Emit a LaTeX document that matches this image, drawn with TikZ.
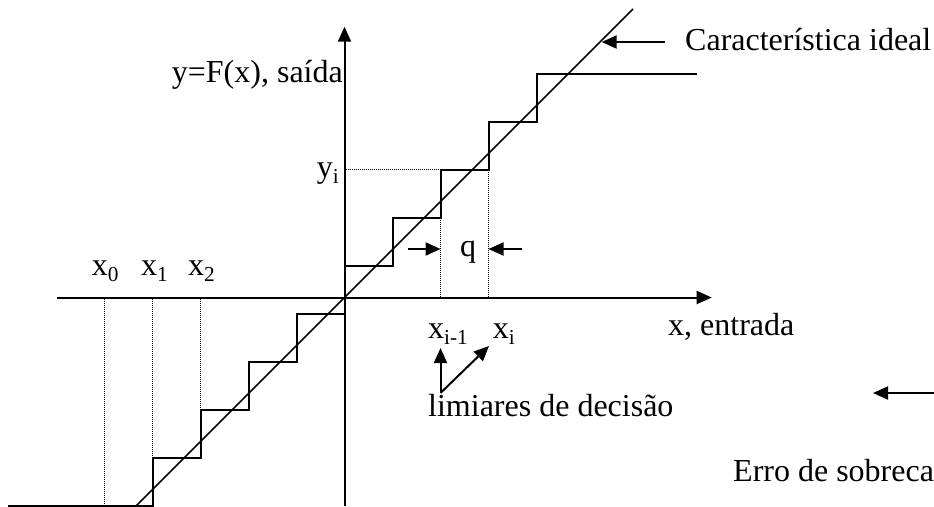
\documentclass[tikz,border=0pt]{standalone}
\usepackage{fontspec}
\setmainfont{Liberation Serif}
\usetikzlibrary{arrows.meta}
\newcommand\mysub[1]{\raisebox{-0.21em}{\fontsize{21.3}{22}\selectfont #1}}
\tikzset{
  axisline/.style={line width=2pt,-{Triangle[length=15pt,width=13pt]}},
  pointer/.style={line width=2pt,-{Triangle[length=15pt,width=13pt]}},
  stair/.style={line width=2pt},
  ideal/.style={line width=1.6pt},
  guide/.style={line width=1pt,dash pattern=on 1pt off 1pt},
  lbl/.style={anchor=base west,inner sep=0pt,font=\fontsize{32}{38}\selectfont},
}
\begin{document}
\begin{tikzpicture}[x=1pt,y=-1pt]
\useasboundingbox (0,0) rectangle (934,506);
\clip (0,0) rectangle (934,506);
% coordinates
\coordinate (xs) at (57,297.5);
\coordinate (xe) at (711.7,297.5);
\coordinate (ys) at (344.5,506);
\coordinate (ye) at (344.5,26.7);
% axes
\draw[axisline] (xs) -- (xe);
\draw[axisline] (ys) -- (ye);
% ideal characteristic
\coordinate (ia) at (136.5,505.5);
\coordinate (ib) at (633,9);
\draw[ideal] (ia) -- (ib);
% staircase
\draw[stair] (8,505.5) -- (152.5,505.5) -- (152.5,457.5) -- (200.5,457.5)
  -- (200.5,409.5) -- (248.5,409.5) -- (248.5,361.5) -- (296.5,361.5)
  -- (296.5,313.5) -- (344.5,313.5) -- (344.5,265.5) -- (392.5,265.5)
  -- (392.5,217.5) -- (440.5,217.5) -- (440.5,169.5) -- (488.5,169.5)
  -- (488.5,121.5) -- (536.5,121.5) -- (536.5,73.5) -- (696.5,73.5);
% guides
\draw[guide] (104.5,299) -- (104.5,505);
\draw[guide] (152.5,299) -- (152.5,457.5);
\draw[guide] (200.5,299) -- (200.5,409.5);
\draw[guide] (440.5,217.5) -- (440.5,296.5);
\draw[guide] (488.5,169.5) -- (488.5,296.5);
\draw[guide] (345.5,169.5) -- (440.5,169.5);
% labels
\node[lbl] (car) at (685,50) {Característica ideal};
\node[lbl] (ylab) at (171.7,82) {y=F(x), saída};
\node[lbl] (yi) at (316.7,177) {y\mysub{i}};
\node[lbl,anchor=base] (q) at (468,256) {q};
\node[lbl] (x0) at (91.7,275) {x\mysub{0}};
\node[lbl] (x1) at (141,275) {x\mysub{1}};
\node[lbl] (x2) at (188,275) {x\mysub{2}};
\node[lbl] (xim) at (428,338) {x\mysub{i-1}};
\node[lbl] (xi) at (492.7,338) {x\mysub{i}};
\node[lbl] (xent) at (668,335) {x, entrada};
\node[lbl] (lim) at (428,416.7) {limiares de decisão};
\node[lbl] (erro) at (733,481.7) {Erro de sobrecarga};
% pointers
\coordinate (cart) at (665,42);
\coordinate (carh) at (601.7,42);
\draw[pointer] (cart) -- (carh);
\coordinate (qlt) at (408,249);
\coordinate (qlh) at (440.5,249);
\draw[pointer] (qlt) -- (qlh);
\coordinate (qrt) at (521.7,249);
\coordinate (qrh) at (488.5,249);
\draw[pointer] (qrt) -- (qrh);
\coordinate (lo) at (440.5,393);
\coordinate (limh) at (440.5,348);
\coordinate (lih) at (489,346);
\draw[pointer] (lo) -- (limh);
\draw[pointer] (lo) -- (lih);
\coordinate (et) at (934,393);
\coordinate (eh) at (873,393);
\draw[pointer] (et) -- (eh);
\end{tikzpicture}
\end{document}
